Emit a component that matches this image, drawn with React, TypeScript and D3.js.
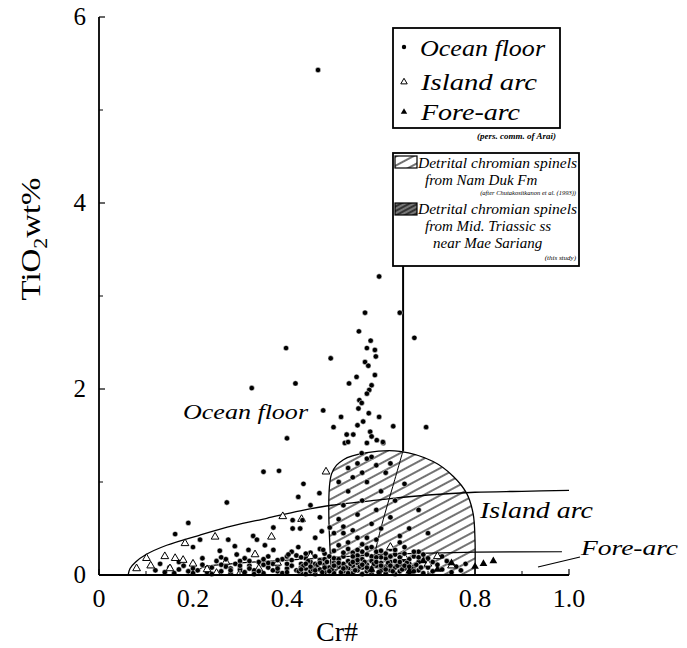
import * as d3 from "d3";

// axis ticks
const xTickLabels = ["0", "0.2", "0.4", "0.6", "0.8", "1.0"];
const xTickValues = [0, 0.2, 0.4, 0.6, 0.8, 1.0];
const xMinorTicks = [0.1, 0.3, 0.5, 0.7, 0.9];
const yTickValues = [0, 2, 4, 6];
const yMinorTicks = [1, 3, 5];

// ocean floor spinels, scattered high-Ti part [Cr#, TiO2]
const oceanFloorHigh = [
  [0.466, 5.43], [0.596, 3.21], [0.566, 2.82], [0.64, 2.82], [0.671, 2.55],
  [0.553, 2.62], [0.578, 2.52], [0.57, 2.44], [0.587, 2.42], [0.398, 2.44],
  [0.493, 2.33], [0.589, 2.35], [0.566, 2.29], [0.573, 2.25], [0.587, 2.15],
  [0.548, 2.13], [0.418, 2.06], [0.532, 2.06], [0.58, 2.04], [0.325, 2.01],
  [0.575, 1.99], [0.57, 1.95], [0.554, 1.88], [0.559, 1.85], [0.552, 1.79],
  [0.477, 1.77], [0.515, 1.7], [0.574, 1.74], [0.596, 1.7], [0.562, 1.65],
  [0.55, 1.61], [0.626, 1.6], [0.696, 1.59], [0.499, 1.59], [0.527, 1.51],
  [0.541, 1.51], [0.577, 1.54], [0.58, 1.49], [0.523, 1.42], [0.53, 1.43],
  [0.591, 1.45], [0.605, 1.42], [0.57, 1.42], [0.4, 1.47], [0.604, 1.43],
  [0.559, 1.31], [0.58, 1.27], [0.35, 1.11], [0.383, 1.12], [0.435, 0.98],
  [0.424, 0.84], [0.469, 0.88], [0.272, 0.78], [0.19, 0.56], [0.162, 0.44],
];

// ocean floor spinels, middle part
const oceanFloorMid = [
  [0.412, 0.59], [0.428, 0.5], [0.412, 0.5], [0.371, 0.51], [0.328, 0.42],
  [0.353, 0.32], [0.336, 0.38], [0.289, 0.31], [0.275, 0.38], [0.215, 0.38],
  [0.2, 0.3], [0.474, 0.47], [0.491, 0.51], [0.424, 0.3], [0.318, 0.27],
  [0.371, 0.27], [0.293, 0.22], [0.477, 0.27], [0.403, 0.22], [0.257, 0.26],
  [0.433, 0.59], [0.45, 0.75], [0.47, 0.62], [0.46, 0.4],
  [0.51, 0.6], [0.52, 0.75], [0.53, 0.9], [0.54, 1.05], [0.55, 0.65],
  [0.56, 0.8], [0.57, 1.0], [0.58, 0.55], [0.59, 0.7], [0.6, 0.9],
  [0.61, 1.1], [0.55, 1.2], [0.57, 1.25], [0.53, 1.15], [0.6, 0.5],
  [0.62, 0.62], [0.63, 0.8], [0.52, 0.52], [0.5, 0.45], [0.54, 0.48],
  [0.65, 0.98], [0.66, 0.5], [0.56, 1.1], [0.59, 1.18], [0.51, 1.0],
  [0.62, 1.2], [0.57, 0.4], [0.64, 0.42], [0.7, 0.45], [0.68, 0.7],
];

// ocean floor spinels, low-Ti band
const oceanFloorLow = [
  [0.12, 0.05], [0.14, 0.03], [0.15, 0.08], [0.16, 0.02], [0.17, 0.06],
  [0.18, 0.1], [0.19, 0.04], [0.2, 0.07], [0.13, 0.12], [0.17, 0.14], [0.2, 0.02],
  [0.21, 0.05], [0.22, 0.11], [0.23, 0.03], [0.24, 0.08], [0.25, 0.15],
  [0.26, 0.04], [0.27, 0.09], [0.28, 0.02], [0.29, 0.12], [0.3, 0.06],
  [0.22, 0.18], [0.26, 0.19], [0.24, 0.01], [0.28, 0.07],
  [0.31, 0.03], [0.32, 0.1], [0.33, 0.05], [0.34, 0.14], [0.35, 0.02],
  [0.36, 0.08], [0.37, 0.12], [0.38, 0.04], [0.39, 0.17], [0.4, 0.07],
  [0.31, 0.18], [0.33, 0.01], [0.35, 0.11], [0.37, 0.05], [0.39, 0.02],
  [0.36, 0.2], [0.32, 0.15], [0.38, 0.1],
  [0.4, 0.03], [0.41, 0.1], [0.41, 0.16], [0.42, 0.05], [0.42, 0.21],
  [0.43, 0.02], [0.43, 0.12], [0.44, 0.07], [0.44, 0.18], [0.45, 0.04],
  [0.45, 0.14], [0.46, 0.09], [0.46, 0.01], [0.47, 0.06], [0.47, 0.16],
  [0.48, 0.11], [0.48, 0.03], [0.49, 0.08], [0.49, 0.2], [0.5, 0.05],
  [0.5, 0.13], [0.41, 0.25], [0.45, 0.24], [0.47, 0.28], [0.43, 0.08],
  [0.46, 0.12], [0.48, 0.17], [0.44, 0.01],
  [0.61, 0.02], [0.61, 0.09], [0.61, 0.18], [0.62, 0.05], [0.62, 0.14],
  [0.63, 0.08], [0.63, 0.22], [0.63, 0.01], [0.64, 0.11], [0.64, 0.04],
  [0.65, 0.16], [0.65, 0.07], [0.66, 0.03], [0.66, 0.12], [0.67, 0.09],
  [0.67, 0.2], [0.68, 0.05], [0.68, 0.14], [0.69, 0.02], [0.7, 0.08],
  [0.62, 0.28], [0.65, 0.3], [0.68, 0.25], [0.64, 0.35],
  [0.71, 0.04], [0.72, 0.11], [0.73, 0.06], [0.74, 0.15], [0.75, 0.03],
  [0.76, 0.09], [0.77, 0.05], [0.78, 0.12], [0.73, 0.2], [0.7, 0.18],
];

// ocean floor spinels, densest core of the low-Ti band
const oceanFloorCore = [
  [0.5, 0.02], [0.51, 0.09], [0.51, 0.17], [0.52, 0.04], [0.52, 0.12],
  [0.52, 0.24], [0.53, 0.07], [0.53, 0.15], [0.54, 0.02], [0.54, 0.1],
  [0.54, 0.2], [0.55, 0.05], [0.55, 0.13], [0.55, 0.27], [0.56, 0.08],
  [0.56, 0.17], [0.56, 0.01], [0.57, 0.04], [0.57, 0.11], [0.57, 0.22],
  [0.58, 0.07], [0.58, 0.15], [0.58, 0.02], [0.59, 0.1], [0.59, 0.19],
  [0.6, 0.05], [0.6, 0.13], [0.6, 0.26], [0.51, 0.32], [0.53, 0.35],
  [0.56, 0.33], [0.58, 0.3], [0.59, 0.38], [0.55, 0.4], [0.52, 0.45],
  [0.425, 0.04], [0.435, 0.1], [0.445, 0.15], [0.455, 0.06], [0.465, 0.11],
  [0.475, 0.03], [0.485, 0.14], [0.495, 0.06], [0.505, 0.11], [0.515, 0.03],
  [0.525, 0.08], [0.535, 0.12], [0.545, 0.05], [0.555, 0.09], [0.565, 0.14],
  [0.575, 0.06], [0.585, 0.12], [0.595, 0.03], [0.605, 0.08], [0.615, 0.13],
  [0.625, 0.04], [0.635, 0.1], [0.645, 0.06], [0.655, 0.13], [0.665, 0.07],
  [0.675, 0.11], [0.685, 0.08], [0.43, 0.06], [0.45, 0.09], [0.47, 0.13],
  [0.49, 0.04], [0.51, 0.13], [0.53, 0.02], [0.55, 0.16], [0.57, 0.08],
  [0.59, 0.14], [0.61, 0.06], [0.63, 0.15], [0.65, 0.1], [0.67, 0.04],
  [0.44, 0.12], [0.46, 0.05], [0.48, 0.08], [0.5, 0.1], [0.52, 0.07],
  [0.54, 0.14], [0.56, 0.11], [0.58, 0.05], [0.6, 0.1], [0.62, 0.1],
  [0.64, 0.14], [0.66, 0.09], [0.38, 0.07], [0.36, 0.13], [0.34, 0.04],
  [0.32, 0.07], [0.3, 0.1], [0.28, 0.05], [0.26, 0.11], [0.4, 0.12],
];

// ocean floor spinels, upper edge of the dense band
const oceanFloorBandTop = [
  [0.43, 0.19], [0.44, 0.23], [0.46, 0.2], [0.48, 0.23], [0.5, 0.18],
  [0.5, 0.26], [0.52, 0.2], [0.53, 0.28], [0.54, 0.24], [0.55, 0.21],
  [0.56, 0.25], [0.57, 0.29], [0.58, 0.2], [0.59, 0.25], [0.6, 0.19],
  [0.61, 0.23], [0.62, 0.2], [0.63, 0.27], [0.64, 0.19], [0.65, 0.23],
  [0.66, 0.17], [0.67, 0.25], [0.68, 0.19], [0.69, 0.22], [0.71, 0.14],
  [0.4, 0.2], [0.38, 0.16], [0.35, 0.17], [0.3, 0.15], [0.27, 0.17],
];

// island arc spinels
const islandArc = [
  [0.483, 1.11], [0.391, 0.63], [0.431, 0.6], [0.247, 0.41], [0.367, 0.41],
  [0.183, 0.34], [0.14, 0.2], [0.162, 0.18], [0.101, 0.18], [0.08, 0.07],
  [0.151, 0.07], [0.332, 0.22], [0.179, 0.16], [0.11, 0.1], [0.2, 0.12],
  [0.23, 0.06], [0.27, 0.14], [0.3, 0.02], [0.34, 0.07], [0.38, 0.13],
  [0.44, 0.1], [0.5, 0.08], [0.55, 0.18], [0.6, 0.1], [0.65, 0.19],
  [0.7, 0.12], [0.72, 0.2], [0.75, 0.1], [0.62, 0.3], [0.45, 0.2], [0.25, 0.02],
];

// fore-arc spinels
const foreArc = [
  [0.8, 0.09], [0.818, 0.12], [0.839, 0.15], [0.72, 0.06], [0.66, 0.04],
  [0.75, 0.13], [0.69, 0.15], [0.58, 0.06],
];

// field outlines [Cr#, TiO2]
const islandArcBoundary = [
  [0.062, 0.0], [0.066, 0.07], [0.078, 0.14], [0.1, 0.22], [0.144, 0.32],
  [0.215, 0.43], [0.286, 0.53], [0.357, 0.61], [0.428, 0.69], [0.495, 0.75],
  [0.6, 0.81], [0.7, 0.86], [0.8, 0.89], [0.9, 0.9], [1.0, 0.91],
];
const foreArcBoundary = [
  [0.2, 0.0], [0.22, 0.08], [0.28, 0.12], [0.4, 0.16], [0.5, 0.19],
  [0.6, 0.22], [0.7, 0.235], [0.8, 0.245], [0.985, 0.25],
];
const namDukField = [
  [0.495, 0.0], [0.495, 1.09], [0.52, 1.24], [0.57, 1.315], [0.64, 1.33],
  [0.711, 1.22], [0.754, 1.06], [0.782, 0.88], [0.796, 0.66], [0.8, 0.38], [0.8, 0.0],
];
const maeSariangDivider = [
  [0.646, 1.32], [0.625, 0.95], [0.605, 0.6], [0.59, 0.3], [0.585, 0.15],
];

const W = 687;
const H = 648;
const x = d3.scaleLinear().domain([0, 1]).range([99, 569]);
const y = d3.scaleLinear().domain([0, 6]).range([575, 17]);

const serif = "Times New Roman, Liberation Serif, serif";

export default function App() {
  const line = d3
    .line<number[]>()
    .x((d) => x(d[0]))
    .y((d) => y(d[1]))
    .curve(d3.curveCatmullRom);
  const fieldPath = line(namDukField) + "Z";
  const triUp = d3.symbol().type(d3.symbolTriangle).size(26)();
  const triLegend = d3.symbol().type(d3.symbolTriangle).size(18)();

  const dot = (d: number[], i: number, key: string) => (
    <circle key={key + i} cx={x(d[0])} cy={y(d[1])} r={2.7} fill="#000" stroke="#fff" strokeWidth={0.5} />
  );

  return (
    <svg width={W} height={H} style={{ position: "absolute", left: 0, top: 0, background: "#fff" }}>
      <defs>
        <pattern id="hatch" width="8" height="8" patternUnits="userSpaceOnUse" patternTransform="rotate(-28)">
          <line x1="0" y1="4" x2="8" y2="4" stroke="#000" strokeWidth="1.1" />
        </pattern>
        <pattern id="hatchDark" width="4" height="4" patternUnits="userSpaceOnUse" patternTransform="rotate(-28)">
          <rect width="4" height="4" fill="#333" />
          <line x1="0" y1="2" x2="4" y2="2" stroke="#ddd" strokeWidth="0.8" />
        </pattern>
      </defs>
      <rect width={W} height={H} fill="#fff" />

      {/* Nam Duk field */}
      <path d={fieldPath} fill="url(#hatch)" stroke="#000" strokeWidth={1.3} />
      <path d={line(maeSariangDivider) || ""} fill="none" stroke="#000" strokeWidth={1} />

      {/* field boundaries */}
      <path d={line(islandArcBoundary) || ""} fill="none" stroke="#000" strokeWidth={1.3} />
      <path d={line(foreArcBoundary) || ""} fill="none" stroke="#000" strokeWidth={1.2} />

      {/* leader line from legend */}
      <line x1={x(0.647)} x2={x(0.647)} y1={266} y2={y(1.33)} stroke="#000" strokeWidth={2} />

      {/* data points */}
      {oceanFloorLow.map((d, i) => dot(d, i, "l"))}
      {islandArc.map((d, i) => (
        <path key={"ia" + i} d={triUp || ""} transform={`translate(${x(d[0])},${y(d[1])})`} fill="#fff" stroke="#000" strokeWidth={1} />
      ))}
      {oceanFloorBandTop.map((d, i) => dot(d, i, "t"))}
      {oceanFloorCore.map((d, i) => dot(d, i, "c"))}
      {oceanFloorMid.map((d, i) => dot(d, i, "m"))}
      {oceanFloorHigh.map((d, i) => dot(d, i, "h"))}
      {foreArc.map((d, i) => (
        <path key={"fa" + i} d={triUp || ""} transform={`translate(${x(d[0])},${y(d[1])})`} fill="#000" />
      ))}

      {/* axes */}
      <line x1={x(0)} x2={x(0)} y1={y(6)} y2={y(0)} stroke="#000" strokeWidth={1.8} />
      <line x1={x(0)} x2={x(1)} y1={y(0)} y2={y(0)} stroke="#000" strokeWidth={1.8} />
      {yTickValues.map((v) => (
        <g key={"yt" + v}>
          <line x1={x(0)} x2={x(0) + 6} y1={y(v)} y2={y(v)} stroke="#000" strokeWidth={1.2} />
          <text x={86} y={y(v) + 8} textAnchor="end" fontFamily={serif} fontSize={25}>{v}</text>
        </g>
      ))}
      {yMinorTicks.map((v) => (
        <line key={"ym" + v} x1={x(0)} x2={x(0) + 4} y1={y(v)} y2={y(v)} stroke="#000" strokeWidth={1} />
      ))}
      {xTickValues.map((v, i) => (
        <g key={"xt" + v}>
          <line x1={x(v)} x2={x(v)} y1={y(0)} y2={y(0) - 6} stroke="#000" strokeWidth={1.2} />
          <text x={x(v)} y={607} textAnchor="middle" fontFamily={serif} fontSize={26}>{xTickLabels[i]}</text>
        </g>
      ))}
      {xMinorTicks.map((v) => (
        <line key={"xm" + v} x1={x(v)} x2={x(v)} y1={y(0)} y2={y(0) - 4} stroke="#000" strokeWidth={1} />
      ))}
      <text x={337} y={641} textAnchor="middle" fontFamily={serif} fontSize={28}>Cr#</text>
      <text transform="translate(40,239) rotate(-90)" textAnchor="middle" fontFamily={serif} fontSize={27} textLength={123} lengthAdjust="spacingAndGlyphs">
        TiO<tspan fontSize={18} dy={7}>2</tspan><tspan dy={-7}>wt%</tspan>
      </text>

      {/* field labels */}
      <text x={183} y={419} fontFamily={serif} fontStyle="italic" fontSize={22} textLength={125} lengthAdjust="spacingAndGlyphs">Ocean floor</text>
      <text x={480} y={518} fontFamily={serif} fontStyle="italic" fontSize={23} textLength={113} lengthAdjust="spacingAndGlyphs">Island arc</text>
      <text x={581} y={555} fontFamily={serif} fontStyle="italic" fontSize={22} textLength={97} lengthAdjust="spacingAndGlyphs">Fore-arc</text>
      <line x1={538} y1={567} x2={580} y2={557} stroke="#000" strokeWidth={1.2} />

      {/* legend 1 */}
      <rect x={393} y={28} width={167} height={100} fill="#fff" stroke="#000" strokeWidth={1.8} />
      <circle cx={404} cy={47} r={2.2} fill="#000" />
      <path d={triLegend || ""} transform="translate(404,82)" fill="#fff" stroke="#000" strokeWidth={1} />
      <path d={triLegend || ""} transform="translate(404,112)" fill="#000" />
      <text x={420} y={56} fontFamily={serif} fontStyle="italic" fontSize={24} textLength={125} lengthAdjust="spacingAndGlyphs">Ocean floor</text>
      <text x={421} y={90} fontFamily={serif} fontStyle="italic" fontSize={24} textLength={116} lengthAdjust="spacingAndGlyphs">Island arc</text>
      <text x={421} y={120} fontFamily={serif} fontStyle="italic" fontSize={24} textLength={99} lengthAdjust="spacingAndGlyphs">Fore-arc</text>
      <text x={556} y={139} textAnchor="end" fontFamily={serif} fontStyle="italic" fontWeight="bold" fontSize={9}>(pers. comm. of Arai)</text>

      {/* legend 2 */}
      <rect x={393} y={153} width={186} height={113} fill="#fff" stroke="#000" strokeWidth={1.8} />
      <rect x={395} y={156} width={22} height={12} fill="url(#hatch)" stroke="#000" strokeWidth={1.2} />
      <rect x={395} y={203} width={22} height={12} fill="url(#hatchDark)" stroke="#000" strokeWidth={1.2} />
      <g fontFamily={serif} fontStyle="italic">
        <text x={418} y={168} fontSize={15} textLength={159} lengthAdjust="spacingAndGlyphs">Detrital chromian spinels</text>
        <text x={425} y={185} fontSize={15}>from Nam Duk Fm</text>
        <text x={576} y={195} textAnchor="end" fontSize={6.5}>(after Chutakositkanon et al. (1993))</text>
        <text x={418} y={214} fontSize={15} textLength={159} lengthAdjust="spacingAndGlyphs">Detrital chromian spinels</text>
        <text x={425} y={231} fontSize={15}>from Mid. Triassic ss</text>
        <text x={433} y={248} fontSize={15}>near Mae Sariang</text>
        <text x={576} y={260} textAnchor="end" fontSize={7}>(this study)</text>
      </g>
    </svg>
  );
}
